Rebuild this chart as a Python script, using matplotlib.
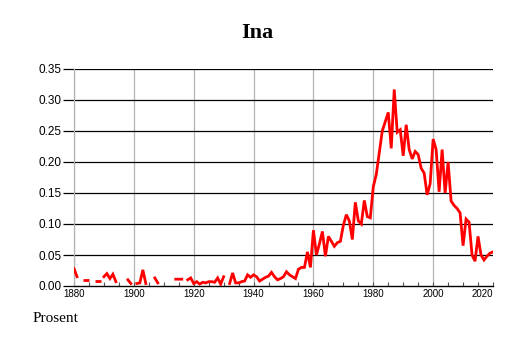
import numpy as np
import matplotlib
matplotlib.use("Agg")
import matplotlib.pyplot as plt
from matplotlib.ticker import MultipleLocator

# ====== Dados ================================================================

nan = np.nan
anos = np.arange(1880, 2021)

prosent = [
    # 1880-1889
    0.028, 0.015, nan, nan, 0.010, nan, nan, nan, 0.008, nan,
    # 1890-1899
    0.015, 0.020, 0.012, 0.019, 0.007, nan, nan, nan, 0.010, 0.004,
    # 1900-1909
    nan, 0.004, 0.005, 0.026, 0.004, nan, nan, 0.013, 0.005, nan,
    # 1910-1919
    nan, nan, nan, nan, 0.011, 0.011, 0.011, nan, 0.010, 0.013,
    # 1920-1929
    0.004, 0.007, 0.003, 0.006, 0.005, 0.007, 0.007, 0.006, 0.013, 0.003,
    # 1930-1939
    0.015, nan, 0.004, 0.021, 0.005, 0.005, 0.007, 0.008, 0.018, 0.014,
    # 1940-1949
    0.018, 0.015, 0.008, 0.011, 0.014, 0.016, 0.022, 0.015, 0.010, 0.012,
    # 1950-1959
    0.015, 0.023, 0.018, 0.015, 0.012, 0.027, 0.030, 0.030, 0.055, 0.030,
    # 1960-1969
    0.090, 0.050, 0.068, 0.088, 0.048, 0.080, 0.072, 0.064, 0.070, 0.072,
    # 1970-1979
    0.098, 0.115, 0.105, 0.075, 0.135, 0.105, 0.100, 0.138, 0.112, 0.110,
    # 1980-1989
    0.160, 0.180, 0.215, 0.250, 0.265, 0.280, 0.222, 0.317, 0.248, 0.252,
    # 1990-1999
    0.210, 0.260, 0.220, 0.205, 0.217, 0.212, 0.190, 0.182, 0.147, 0.165,
    # 2000-2009
    0.237, 0.220, 0.152, 0.220, 0.150, 0.200, 0.137, 0.130, 0.125, 0.118,
    # 2010-2020
    0.065, 0.108, 0.103, 0.050, 0.040, 0.080, 0.050, 0.042, 0.048, 0.053, 0.055,
]
prosent = np.array(prosent, dtype=float)

x_ticks = [1880, 1900, 1920, 1940, 1960, 1980, 2000, 2020]
y_ticks = [0.00, 0.05, 0.10, 0.15, 0.20, 0.25, 0.30, 0.35]

# ====== Figura ===============================================================

fig = plt.figure(figsize=(5.14, 3.43), dpi=100)
ax = fig.add_axes([74 / 514, 57 / 343, 419 / 514, 217 / 343])

ax.set_xlim(1880, 2020)
ax.set_ylim(0, 0.35)

# grades: verticais cinza, horizontais pretas
for x in x_ticks[:-1]:
    ax.axvline(x, color="#b4b4b4", lw=0.9, zorder=1)
for y in y_ticks[1:]:
    ax.axhline(y, color="black", lw=0.9, zorder=1)

ax.plot(anos, prosent, color="red", lw=2.0, solid_joinstyle="miter", zorder=3)

# pontos isolados (sem vizinhos) aparecem como tracinhos
ok = ~np.isnan(prosent)
prev_ok = np.r_[False, ok[:-1]]
next_ok = np.r_[ok[1:], False]
iso = ok & ~prev_ok & ~next_ok
ax.plot(anos[iso], prosent[iso], ls="none", marker="_", ms=4, mew=2.0,
        color="red", zorder=3)

# eixos
for s in ["top", "right"]:
    ax.spines[s].set_visible(False)
ax.spines["left"].set_color("#b4b4b4")
ax.spines["left"].set_linewidth(0.9)
ax.spines["bottom"].set_color("black")
ax.spines["bottom"].set_linewidth(1.0)

ax.set_yticks(y_ticks)
ax.set_yticklabels([f"{v:.2f}" for v in y_ticks], fontsize=8.5,
                   family="Liberation Sans")
ax.tick_params(axis="y", length=8, width=0.9, color="black", pad=1)

ax.set_xticks(x_ticks)
ax.set_xticklabels([str(v) for v in x_ticks], fontsize=7,
                   family="Liberation Sans")
ax.xaxis.set_minor_locator(MultipleLocator(5))
ax.tick_params(axis="x", which="both", direction="in", length=3,
               width=0.8, color="#555555", pad=2.5)
ax.get_xticklabels()[-1].set_horizontalalignment("right")

# textos
fig.text(0.5, 1 - 33 / 343, "Ina", ha="center", va="center",
         fontsize=16, fontweight="bold", family="Liberation Serif")
fig.text(33 / 514, 1 - 318 / 343, "Prosent", ha="left", va="center",
         fontsize=11, family="Liberation Serif")

fig.savefig("out.png", dpi=100)
plt.close(fig)
